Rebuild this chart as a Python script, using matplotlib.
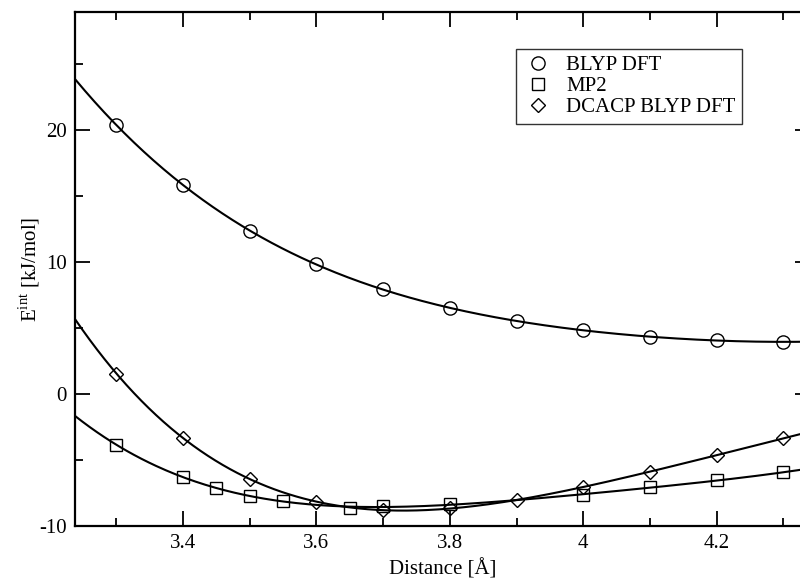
import numpy as np
import matplotlib
matplotlib.use("Agg")
import matplotlib.pyplot as plt

plt.rcParams["font.family"] = ["Liberation Serif", "DejaVu Serif"]
plt.rcParams["mathtext.fontset"] = "custom"
plt.rcParams["mathtext.rm"] = "Liberation Serif"
plt.rcParams["axes.unicode_minus"] = False

# ---- data ----
x_blyp = [3.3, 3.4, 3.5, 3.6, 3.7, 3.8, 3.9, 4.0, 4.1, 4.2, 4.3]
e_blyp = [20.35, 15.8, 12.35, 9.8, 7.9, 6.5, 5.52, 4.8, 4.33, 4.05, 3.93]

x_mp2 = [3.3, 3.4, 3.45, 3.5, 3.55, 3.65, 3.7, 3.8, 4.0, 4.1, 4.2, 4.3]
e_mp2 = [-3.85, -6.28, -7.16, -7.74, -8.12, -8.6, -8.5, -8.37, -7.66, -7.08, -6.53, -5.95]

x_dcacp = [3.3, 3.4, 3.5, 3.6, 3.7, 3.8, 3.9, 4.0, 4.1, 4.2, 4.3]
e_dcacp = [1.54, -3.33, -6.45, -8.17, -8.8, -8.67, -8.04, -7.03, -5.9, -4.64, -3.37]

xmin, xmax = 3.238, 4.34
ymin, ymax = -10, 28.9
fs = 15

fig = plt.figure(figsize=(8, 5.78), dpi=100)
ax = fig.add_axes([75 / 800, 52 / 578, 735 / 800, 514 / 578])

xs = np.linspace(xmin, xmax, 300)
series = [
    (x_blyp, e_blyp, "o", 9.5, 4, "BLYP DFT"),
    (x_mp2, e_mp2, "s", 8.5, 4, "MP2"),
    (x_dcacp, e_dcacp, "D", 7.5, 4, "DCACP BLYP DFT"),
]
for xd, yd, m, ms, deg, lab in series:
    # fitted curve through the points
    coef = np.polyfit(xd, yd, deg)
    ax.plot(xs, np.polyval(coef, xs), color="black", lw=1.5)
    ax.plot(xd, yd, m, ms=ms, mfc="none", mec="black", mew=1.0,
            linestyle="none", label=lab)

ax.set_xlim(xmin, xmax)
ax.set_ylim(ymin, ymax)
ax.set_xticks([3.4, 3.6, 3.8, 4.0, 4.2])
ax.set_xticklabels(["3.4", "3.6", "3.8", "4", "4.2"])
ax.set_xticks(np.arange(3.3, 4.35, 0.2), minor=True)
ax.set_yticks([-10, 0, 10, 20])
ax.set_yticks([-5, 5, 15, 25], minor=True)

ax.tick_params(which="both", direction="in", top=True, right=True,
               labelsize=fs, width=1.3)
ax.tick_params(which="major", length=10.5, pad=6)
ax.tick_params(which="minor", length=5.5)
for s in ax.spines.values():
    s.set_linewidth(1.6)

ax.set_xlabel("Distance [Å]", fontsize=fs, labelpad=4)
ax.set_ylabel(r"E$^{\mathrm{int}}$ [kJ/mol]", fontsize=fs, labelpad=-2)

leg = ax.legend(loc="upper left", bbox_to_anchor=(0.6, 0.928),
                borderaxespad=0, fontsize=fs, frameon=True, fancybox=False,
                edgecolor="black", handletextpad=0.6, labelspacing=0.08,
                borderpad=0.3, handlelength=1.5)
leg.get_frame().set_linewidth(1.0)

fig.savefig("out.png", dpi=100)
